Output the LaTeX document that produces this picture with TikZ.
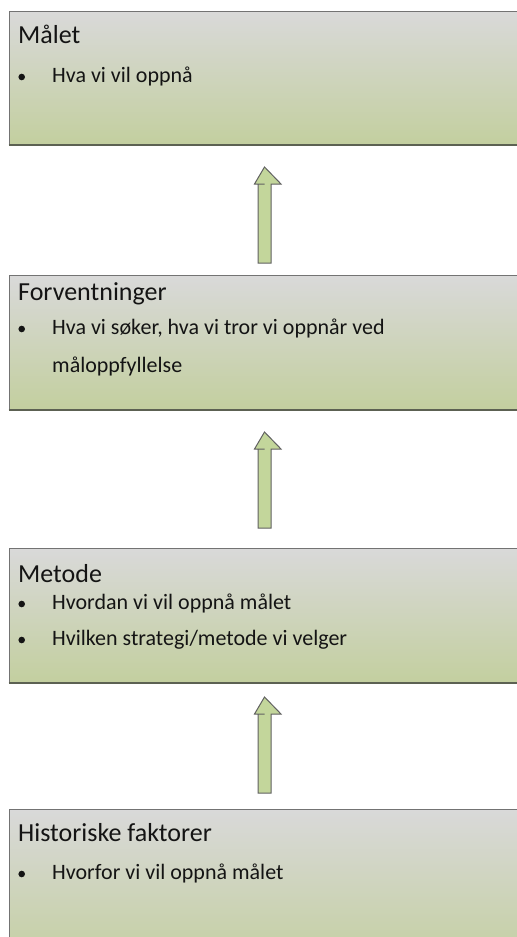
\documentclass[tikz,border=0pt]{standalone}
\usepackage{fontspec}
\setmainfont{Carlito}
\begin{document}
\begin{tikzpicture}[x=1bp,y=-1bp,
  panel/.style={rectangle, draw=black!55, line width=1bp, anchor=north west,
    top color=panelTop, bottom color=panelBottom, inner sep=0pt,
    minimum width=530bp},
  panelshadow/.style={draw=panelEdge, line width=2bp},
  heading/.style={anchor=base west, inner sep=0pt, font=\fontsize{26bp}{31bp}\selectfont, text=black!92},
  item/.style={anchor=base west, inner sep=0pt, font=\fontsize{22bp}{26bp}\selectfont, text=black!92},
  dot/.style={fill=black!92, draw=none},
  blockarrow/.style={fill=arrowFill, draw=black!62, line width=1bp, line join=miter}
]
\definecolor{panelTop}{HTML}{D9D9D9}
\definecolor{panelBottom}{HTML}{C3CF9F}
\definecolor{panelEdge}{HTML}{5C6152}
\definecolor{arrowFill}{HTML}{C3D69B}

\useasboundingbox (0,0) rectangle (517,937);
\clip (0,0) rectangle (517,937);

% up arrow: name, tip y, shaft bottom y
\newcommand\blockup[3]{%
  \coordinate (#1tip) at (264.5,#2);
  \coordinate (#1base) at (264.5,#3);
  \draw[blockarrow] (#1tip) -- ++(16.5,17) -- ++(-10,0) |- (#1base) -- ++(-6.5,0) |- ([yshift=-17bp]#1tip) -- ++(-10,0) -- cycle;
}

% panels
\node[panel, minimum height=133.5bp] (goal) at (8.5,10.5) {};
\draw[panelshadow] (goal.south west) -- (goal.south east);
\node[panel, minimum height=133.5bp] (expect) at (8.5,275) {};
\draw[panelshadow] (expect.south west) -- (expect.south east);
\node[panel, minimum height=134bp] (method) at (8.5,548) {};
\draw[panelshadow] (method.south west) -- (method.south east);
\node[panel, minimum height=160bp] (history) at (8.5,808.5) {};

% Målet
\node[heading] (goalT) at (18,43.5) {Målet};
\fill[dot] (21.7,77) circle (3.3bp);
\node[item] (goalA) at (52,82) {Hva vi vil oppnå};

% Forventninger
\node[heading] (expectT) at (18,300) {Forventninger};
\fill[dot] (21.7,329) circle (3.3bp);
\node[item] (expectA) at (52,334) {Hva vi søker, hva vi tror vi oppnår ved};
\node[item] (expectB) at (52,372) {måloppfyllelse};

% Metode
\node[heading] (methodT) at (18,582) {Metode};
\fill[dot] (21.7,604) circle (3.3bp);
\node[item] (methodA) at (52,609) {Hvordan vi vil oppnå målet};
\fill[dot] (21.7,640) circle (3.3bp);
\node[item] (methodB) at (52,645) {Hvilken strategi/metode vi velger};

% Historiske faktorer
\node[heading] (historyT) at (18,841) {Historiske faktorer};
\fill[dot] (21.7,874) circle (3.3bp);
\node[item] (historyA) at (52,879) {Hvorfor vi vil oppnå målet};

% arrows between panels
\blockup{upA}{167}{263}
\blockup{upB}{432}{528}
\blockup{upC}{697}{793}
\end{tikzpicture}
\end{document}
